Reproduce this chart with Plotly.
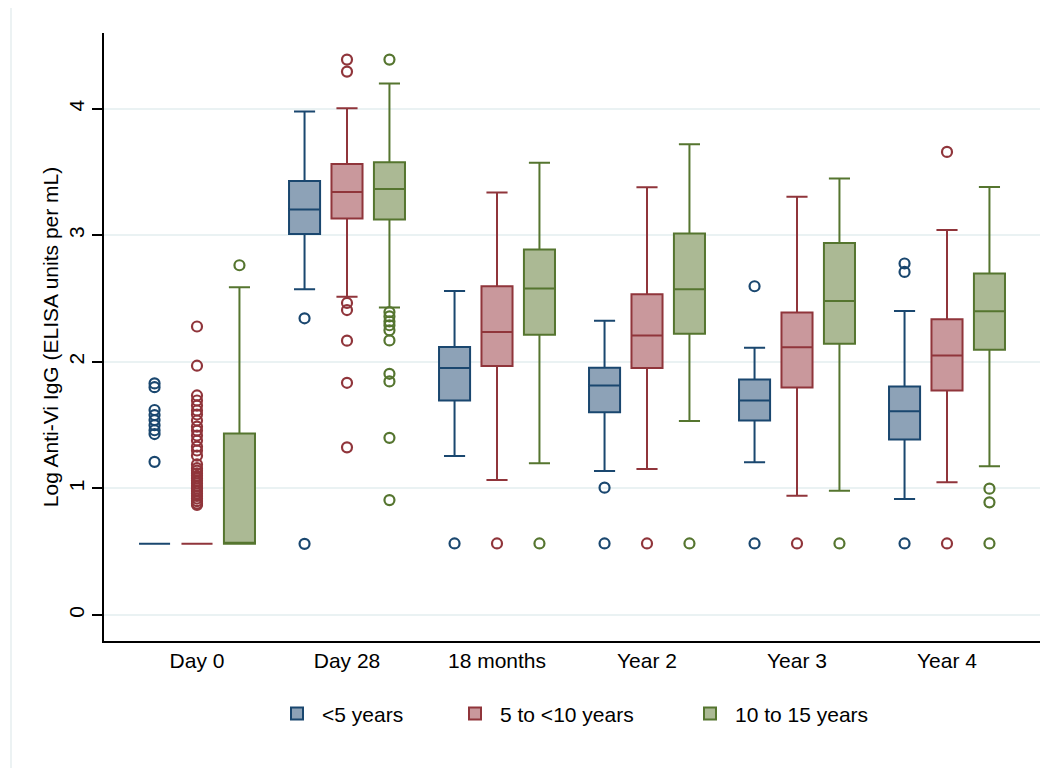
import plotly.graph_objects as go
import numpy as np

# ---------------- data ----------------
categories = ["Day 0", "Day 28", "18 months", "Year 2", "Year 3", "Year 4"]
groups = ["<5 years", "5 to <10 years", "10 to 15 years"]

# <5 years
g1_low = [0.562, 2.575, 1.257, 1.138, 1.206, 0.916]
g1_q1 = [0.562, 3.012, 1.695, 1.603, 1.537, 1.386]
g1_med = [0.562, 3.205, 1.951, 1.814, 1.695, 1.610]
g1_q3 = [0.562, 3.430, 2.117, 1.954, 1.861, 1.806]
g1_high = [0.562, 3.980, 2.561, 2.326, 2.112, 2.402]
g1_out = [
    [1.83, 1.80, 1.62, 1.58, 1.54, 1.50, 1.46, 1.43, 1.21],
    [2.345, 0.562],
    [0.565],
    [1.006, 0.565],
    [2.598, 0.565],
    [2.778, 2.711, 0.565],
]

# 5 to <10 years
g2_low = [0.562, 2.516, 1.067, 1.154, 0.943, 1.048]
g2_q1 = [0.562, 3.134, 1.967, 1.951, 1.798, 1.774]
g2_med = [0.562, 3.343, 2.236, 2.208, 2.115, 2.051]
g2_q3 = [0.562, 3.564, 2.598, 2.535, 2.390, 2.337]
g2_high = [0.562, 4.005, 3.340, 3.380, 3.306, 3.042]
g2_out = [
    [2.28, 1.97, 1.735, 1.695, 1.655, 1.616, 1.584, 1.537, 1.489, 1.457,
     1.418, 1.378, 1.331, 1.300, 1.259, 1.19, 1.16, 1.14, 1.12, 1.10,
     1.08, 1.06, 1.04, 1.02, 1.00, 0.98, 0.96, 0.94, 0.92, 0.90, 0.88, 0.87],
    [4.39, 4.295, 2.466, 2.41, 2.168, 1.835, 1.325],
    [0.565],
    [0.565],
    [0.565],
    [3.66, 0.565],
]

# 10 to 15 years
g3_low = [0.562, 2.430, 1.199, 1.534, 0.982, 1.175]
g3_q1 = [0.562, 3.126, 2.215, 2.223, 2.144, 2.097]
g3_med = [0.562, 3.366, 2.580, 2.574, 2.482, 2.400]
g3_q3 = [1.434, 3.578, 2.889, 3.015, 2.941, 2.699]
g3_high = [2.590, 4.200, 3.575, 3.720, 3.450, 3.382]
g3_out = [
    [2.764],
    [4.39, 2.394, 2.36, 2.32, 2.29, 2.25, 2.17, 1.906, 1.846, 1.40, 0.908],
    [0.565],
    [0.565],
    [0.565],
    [0.998, 0.89, 0.565],
]

y_ticks = [0, 1, 2, 3, 4]

# ---------------- style ----------------
line_colors = ["#1a476f", "#90353b", "#55752f"]
fill_colors = ["#8da2b7", "#c9989c", "#abb994"]
legend_widths = [123, 180, 132]
offsets = [-0.283, 0.0, 0.283]
box_w = 0.207
FONT = "Liberation Sans, Arial, Helvetica, sans-serif"
FS = 21

stats = [
    (g1_low, g1_q1, g1_med, g1_q3, g1_high, g1_out),
    (g2_low, g2_q1, g2_med, g2_q3, g2_high, g2_out),
    (g3_low, g3_q1, g3_med, g3_q3, g3_high, g3_out),
]

fig = go.Figure()
base = np.arange(len(categories))

for gi, (lo, q1, med, q3, hi, outs) in enumerate(stats):
    xs = base + offsets[gi]
    fig.add_trace(go.Box(
        x=xs, q1=q1, median=med, q3=q3, lowerfence=lo, upperfence=hi,
        name=groups[gi], width=box_w, whiskerwidth=0.68,
        line=dict(color=line_colors[gi], width=2),
        fillcolor=fill_colors[gi], boxpoints=False, showlegend=True,
        legendwidth=legend_widths[gi], hoverinfo="skip",
    ))
for gi, (lo, q1, med, q3, hi, outs) in enumerate(stats):
    ox, oy = [], []
    for ci, vals in enumerate(outs):
        ox += [base[ci] + offsets[gi]] * len(vals)
        oy += vals
    fig.add_trace(go.Scatter(
        x=ox, y=oy, mode="markers", showlegend=False, hoverinfo="skip",
        marker=dict(symbol="circle-open", size=10, color=line_colors[gi],
                    line=dict(width=2.2, color=line_colors[gi])),
    ))

# page body adds an 8px offset; margins compensate so the plot area sits
# at x 104..1040, y 33..641 in the screenshot
fig.update_layout(
    width=1056, height=768,
    paper_bgcolor="white", plot_bgcolor="white",
    margin=dict(l=96, r=24, t=25, b=135, autoexpand=False),
    font=dict(family=FONT, size=FS, color="black"),
    showlegend=True,
    legend=dict(orientation="h", x=0.5, xanchor="center", y=-0.12,
                yanchor="middle", font=dict(size=FS), itemwidth=40,
                traceorder="normal"),
    shapes=[dict(type="rect", xref="paper", yref="paper",
                 x0=(3 - 96) / 936, x1=1.1, y0=-0.3, y1=1.05,
                 line=dict(color="#e6eef0", width=1.5), layer="below")],
)
fig.update_xaxes(
    range=[-0.62, 5.62], tickmode="array", tickvals=list(base),
    ticktext=categories, showgrid=False, zeroline=False,
    showline=True, linecolor="black", linewidth=1.5, ticks="",
    tickfont=dict(size=FS), automargin=False,
)
fig.update_yaxes(
    range=[-0.206, 4.60], tickmode="array", tickvals=y_ticks,
    showgrid=True, gridcolor="#eaf2f3", gridwidth=2, zeroline=False,
    showline=True, linecolor="black", linewidth=1.5,
    ticks="outside", ticklen=10, tickwidth=1.5, tickcolor="black",
    tickangle=-90, tickfont=dict(size=FS), automargin=False,
    title=dict(text="Log Anti-Vi IgG (ELISA units per mL)", font=dict(size=FS),
               standoff=0),
)

fig.write_html("out.html")
